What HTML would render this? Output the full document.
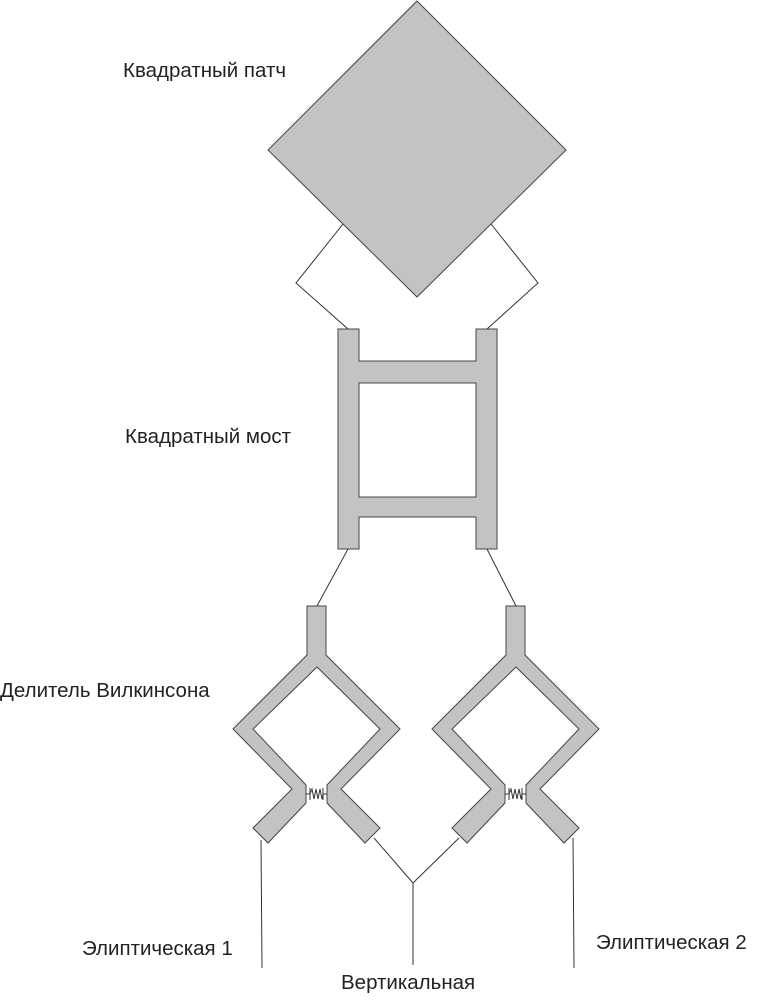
<!DOCTYPE html>
<html><head><meta charset="utf-8"><style>
body{margin:0;background:#fff;width:768px;height:995px;overflow:hidden}
svg text{font-family:"Liberation Sans",sans-serif;font-size:20.5px;fill:#222}
</style></head><body>
<svg width="768" height="995" viewBox="0 0 768 995">
<defs>
<g id="wil">
<polygon points="307,606 326,606 326,655 400,729 341,789 380,828 365,843 327,803 327,785 380,729 317,667 253,729 306,785 306,803 268,843 253,828 292,789 233,729 307,655" fill="#c3c3c3" stroke="#444" stroke-width="1"/>
<path d="M306,794 L310,794 M310,788 L310,800 M310,794 L312,789 L314,799 L316,789 L318,799 L320,789 L322,799 L323,794 M323,788 L323,800 M323,794 L327,794" fill="none" stroke="#333" stroke-width="1"/>
</g>
</defs>
<g fill="none" stroke="#333" stroke-width="1">
<path d="M343,224 L296,283 L348,329"/>
<path d="M491,224 L538,283 L487,329"/>
<path d="M348,549 L317,606"/>
<path d="M487,549 L516,606"/>
<path d="M261,840 L262,968"/>
<path d="M374,838 L413,883 L459,838 M413,883 L413,965"/>
<path d="M573,838 L574,968"/>
</g>
<polygon points="417,1 566,150 417,297 268,150" fill="#c3c3c3" stroke="#444" stroke-width="1"/>
<path d="M338,329 H359 V361 H476 V329 H497 V549 H476 V517 H359 V549 H338 Z M359,383 V497 H476 V383 Z" fill="#c3c3c3" stroke="#444" stroke-width="1" fill-rule="evenodd"/>
<use href="#wil"/>
<use href="#wil" transform="translate(199,0)"/>
<text x="123" y="77">Квадратный патч</text>
<text x="125" y="443">Квадратный мост</text>
<text x="0" y="697">Делитель Вилкинсона</text>
<text x="82" y="955">Элиптическая 1</text>
<text x="596" y="949">Элиптическая 2</text>
<text x="341" y="989">Вертикальная</text>
</svg>
</body></html>
